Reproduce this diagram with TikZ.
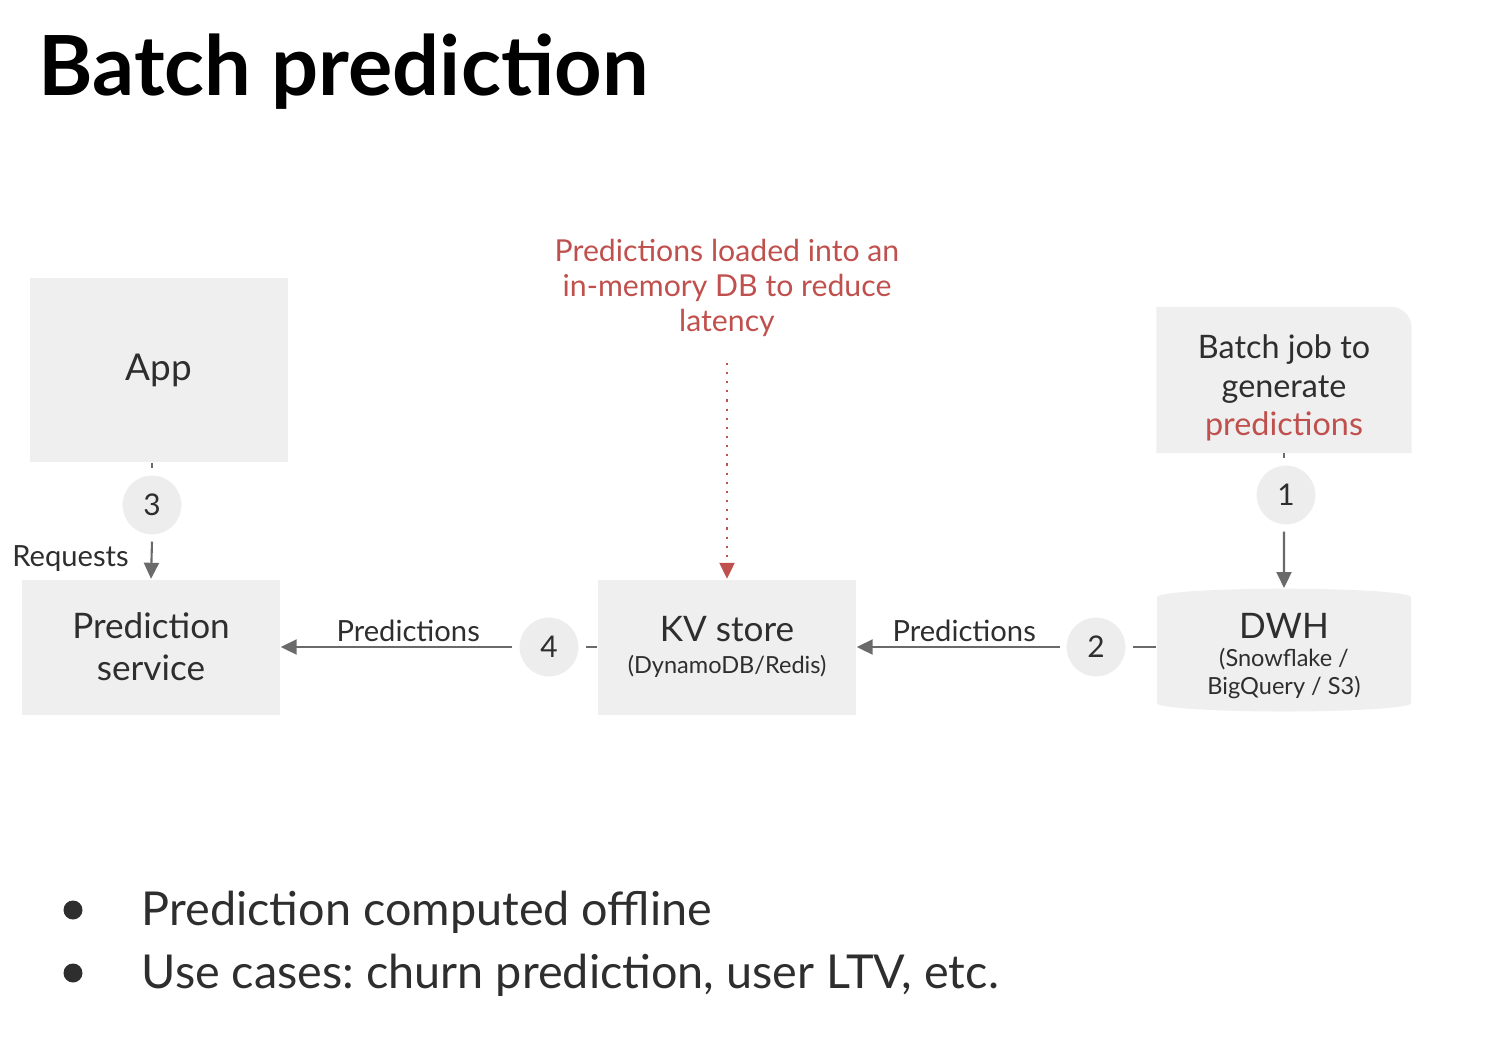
\documentclass[tikz,border=0pt]{standalone}
\usepackage{fontspec}
\setmainfont{Lato}
\frenchspacing
\usetikzlibrary{arrows.meta,positioning,shapes.geometric,calc,backgrounds}
\definecolor{ink}{HTML}{2E2E2E}
\definecolor{muted}{HTML}{6A6A6A}
\definecolor{boxfill}{HTML}{EFEFEF}
\definecolor{dotfill}{HTML}{EDEDED}
\definecolor{note}{HTML}{C0504D}

\begin{document}
\begin{tikzpicture}[
  >={Triangle[length=1.6mm,width=1.5mm]},
  box/.style={fill=boxfill,minimum width=2.58cm,minimum height=1.35cm,inner sep=2pt,
              align=center,text=ink,font=\fontsize{10}{12}\selectfont},
  dbstore/.style={cylinder,shape border rotate=90,aspect=0.1,fill=boxfill,
              minimum width=2.54cm,minimum height=1.22cm,inner sep=2pt,
              align=center,text=ink,font=\fontsize{10}{12}\selectfont},
  num/.style={circle,fill=dotfill,draw=white,line width=2pt,minimum size=0.66cm,
              inner sep=0pt,text=ink,font=\fontsize{8.5}{10}\selectfont},
  flow/.style={->,draw=muted,line width=0.6pt},
  tick/.style={draw=muted,line width=0.6pt},
  notearrow/.style={->,draw=note,line width=0.6pt,dotted},
  edgelabel/.style={text=ink,font=\fontsize{8.3}{10}\selectfont},
  title/.style={font=\fontsize{23.6}{27}\selectfont\bfseries,text=black},
  bullettext/.style={font=\fontsize{13.3}{16}\selectfont,text=ink,inner sep=0pt},
  bulletdot/.style={circle,fill=ink,minimum size=0.19cm,inner sep=0pt}
]
\useasboundingbox (0,0) rectangle (14.96,10.44);

\node[title,anchor=base west,inner sep=0pt] (title) at (0.38,9.49) {Batch prediction};

% Boxes
\node[box,minimum height=1.84cm] (app) at (1.585,6.74) {\fontsize{10.5}{12}\selectfont App};
\node[box] (serve) at (1.51,3.97) {Prediction\\service};
\node[box] (kv) at (7.27,3.97)
  {KV store\\[-3pt]{\fontsize{6.7}{8}\selectfont (DynamoDB/Redis)}};
\node[dbstore] (dwh) at (12.84,3.88)
  {DWH\\[-4pt]{\fontsize{6.7}{8}\selectfont (Snowflake /}\\[-4pt]{\fontsize{6.7}{8}\selectfont BigQuery / S3)}};
\node[minimum width=2.54cm,minimum height=1.45cm,inner sep=0pt] (batch) at (12.84,6.64) {};
\node[align=center,text=ink,font=\fontsize{9.2}{11}\selectfont] (batchtext)
  at ($(batch)+(0,-0.08)$) {Batch job to\\generate\\\textcolor{note}{predictions}};

% Step markers
\node[num] (n1) at (12.86,5.49) {1};
\node[num] (n2) at (10.96,3.97) {2};
\node[num] (n3) at (1.52,5.39) {3};
\node[num] (n4) at (5.49,3.97) {4};

% Note
\node[align=center,text=note,font=\fontsize{8.6}{9.9}\selectfont] (note) at (7.27,7.56)
  {Predictions loaded into an\\in-memory DB to reduce\\latency};

% Arrows
\draw[tick] (batch.south) -- (batch.south |- n1.north);
\draw[flow] (batch.south |- n1.south) -- (dwh.north);
\draw[tick] (dwh.west |- n2) -- (n2.east);
\draw[flow] (n2.west) -- node[edgelabel,above=-2pt,pos=0.47] {Predictions} (kv.east);
\draw[tick] (kv.west) -- (n4.east);
\draw[flow] (n4.west) -- node[edgelabel,above=-2pt,pos=0.45] {Predictions} (serve.east);
\draw[tick] (n3 |- app.south) -- (n3.north);
\draw[flow] (n3.south) -- node[edgelabel,left=1mm,pos=0.45] {Requests} (serve.north);
\draw[notearrow] (note.south) ++(0,-0.14) -- (kv.north);

% Batch job card with rounded top corner
\begin{scope}[on background layer]
  \fill[boxfill] (batch.south west) -- (batch.north west)
    [rounded corners=6pt] -- (batch.north east) [sharp corners] -- (batch.south east) -- cycle;
\end{scope}

% Bullets
\node[bulletdot] (dotA) at (0.73,1.34) {};
\node[bullettext,anchor=base west] (lineA) at (1.41,1.19) {Prediction computed offline};
\node[bulletdot] (dotB) at (0.73,0.71) {};
\node[bullettext,anchor=base west] (lineB) at (1.41,0.56) {Use cases: churn prediction, user LTV, etc.};

\end{tikzpicture}
\end{document}
